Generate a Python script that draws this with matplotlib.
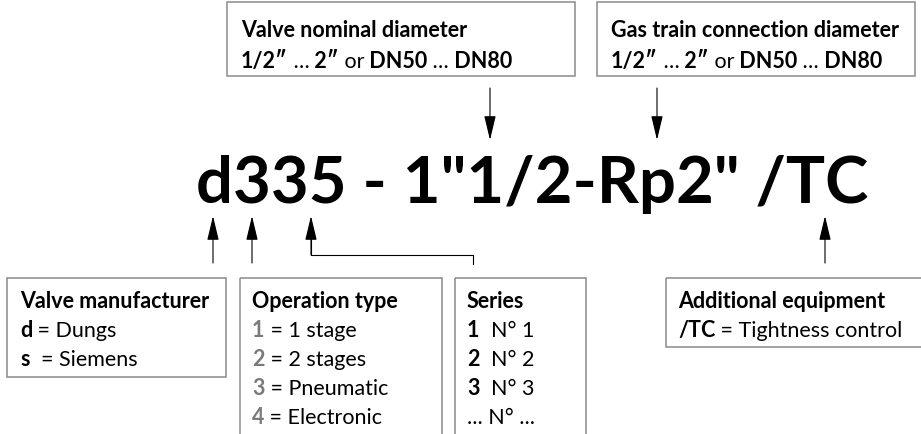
import matplotlib
matplotlib.use("Agg")
import matplotlib.pyplot as plt
from matplotlib.patches import Rectangle

plt.rcParams['font.family'] = ['Lato', 'DejaVu Sans']

# product code and its parts
code = 'd335 - 1"1/2-Rp2" /TC'

top_titles = ["Valve nominal diameter", "Gas train connection diameter"]
size_line = [("1/2″", "bold"), (" …", "normal"), (" 2″", "bold"), (" or", "normal"),
             (" DN50", "bold"), (" …", "normal"), (" DN80", "bold")]

maker_title = "Valve manufacturer"
maker_keys = ["d", "s"]
maker_names = [" = Dungs", "  = Siemens"]

optype_title = "Operation type"
optype_keys = ["1", "2", "3", "4"]
optype_names = [" = 1 stage", " = 2 stages", " = Pneumatic", " = Electronic"]

series_title = "Series"
series_keys = ["1", "2", "3", ""]
series_names = ["  N° 1", "  N° 2", "  N° 3", "... N° ..."]

extra_title = "Additional equipment"
extra_keys = ["/TC"]
extra_names = [" = Tightness control"]

W, H = 921, 435
fig = plt.figure(figsize=(W / 100, H / 100), dpi=100)
ax = fig.add_axes([0, 0, 1, 1])
ax.set_xlim(0, W)
ax.set_ylim(H, 0)
ax.axis('off')
renderer = fig.canvas.get_renderer()

EDGE = '#8a8a8a'
GRAY = '#7a7a7a'
FS = 15.5


def runs(x, y, parts, size=FS):
    # draw pieces of text one after another on one baseline
    for s, weight, color in parts:
        t = ax.text(x, y, s, fontsize=size, fontweight=weight, color=color,
                    ha='left', va='baseline')
        x += t.get_window_extent(renderer).width


def box(x0, y0, x1, y1):
    ax.add_patch(Rectangle((x0, y0), x1 - x0, y1 - y0, fill=False,
                           edgecolor=EDGE, lw=1.1, clip_on=True))


def arrow(x, y_from, y_to):
    ax.annotate('', xy=(x, y_to), xytext=(x, y_from),
                arrowprops=dict(arrowstyle='-|>,head_length=0.75,head_width=0.18',
                                mutation_scale=20, lw=0.8, color='black',
                                shrinkA=0, shrinkB=0))


def legend_box(x0, y0, x1, y1, tx, title, keys, names, keycolor='black'):
    box(x0, y0, x1, y1)
    runs(tx, y0 + 29, [(title, 'bold', 'black')])
    for i, (k, n) in enumerate(zip(keys, names)):
        runs(tx, y0 + 58 + 29 * i, [(k, 'bold', keycolor), (n, 'normal', 'black')])


# main code
ax.text(196, 203, code, fontsize=47, fontweight='bold', ha='left', va='baseline')

# top boxes
for (x0, x1), title in zip([(227, 575), (597, 915)], top_titles):
    box(x0, 3, x1, 77)
    runs(x0 + 14, 37, [(title, 'bold', 'black')])
    runs(x0 + 14, 68, [(s, w, 'black') for s, w in size_line])

arrow(490, 89, 141)
arrow(657, 89, 141)

# up arrows
arrow(213, 264, 217)
arrow(252, 264, 217)
arrow(825, 264, 217)
ax.plot([473, 473, 311, 311], [265, 256, 256, 240], color='black', lw=0.8)
arrow(311, 256, 217)

# bottom boxes
legend_box(7, 279, 226, 378, 20, maker_title, maker_keys, maker_names)
legend_box(240, 279, 442, 445, 252, optype_title, optype_keys, optype_names, keycolor=GRAY)
legend_box(455, 279, 586, 445, 467, series_title, series_keys, series_names)
legend_box(666, 279, 925, 348, 678, extra_title, extra_keys, extra_names)

fig.savefig('out.png', dpi=100)
